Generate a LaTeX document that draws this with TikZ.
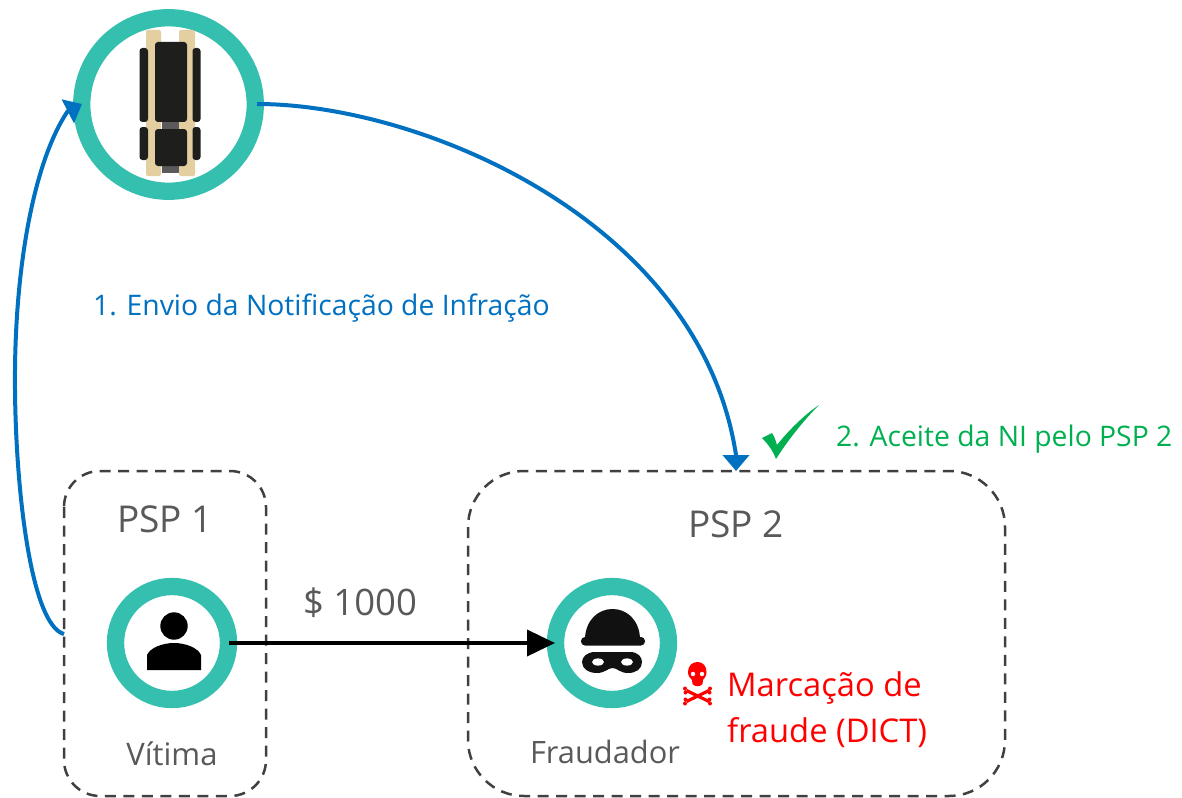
\documentclass[tikz,border=0pt]{standalone}
\usepackage{fontspec}
\setmainfont{Open Sans}
\usetikzlibrary{arrows.meta,calc}
\definecolor{teal1}{HTML}{35BFAE}
\definecolor{blue1}{HTML}{0070C0}
\definecolor{green1}{HTML}{00B050}
\definecolor{grey1}{HTML}{595959}
\definecolor{tan1}{HTML}{E3CFA0}
\definecolor{dark1}{HTML}{1E1E1C}
\definecolor{dark2}{HTML}{111111}
\definecolor{grey2}{HTML}{5A5A5A}
\definecolor{dash1}{HTML}{404040}
\tikzset{
  x=1pt,y=-1pt,
  ring/.style={circle,draw=teal1,fill=white,line width=17.3pt,inner sep=0pt},
  groupbox/.style={draw=dash1,line width=2.5pt,dash pattern=on 11pt off 7.5pt},
  flow/.style={draw=blue1,line width=4pt,-{Triangle[length=16pt,width=26pt]}},
  money/.style={draw=black,line width=3.8pt,-{Triangle[length=28pt,width=26pt]}},
  lbl/.style={inner sep=0pt,anchor=base west},
  ctr/.style={inner sep=0pt,anchor=base,text=grey1},
}
\begin{document}
\begin{tikzpicture}
\useasboundingbox (0,0) rectangle (1182,797);
% groups
\draw[groupbox,rounded corners=36pt] (64,471) rectangle (266,796);
\draw[groupbox,rounded corners=56pt] (468,471) rectangle (1005,796);
% rings
\node[ring,minimum size=173.5pt] (hub) at (168.5,104.5) {};
\node[ring,minimum size=113pt] (vit) at (172,643) {};
\node[ring,minimum size=113pt] (fra) at (612,643) {};
% truck
\fill[tan1,rounded corners=2pt] (146,30) rectangle (161,176);
\fill[tan1,rounded corners=2pt] (179,30) rectangle (195,176);
\fill[dark1,rounded corners=3pt] (139.5,48) rectangle (148,122);
\fill[dark1,rounded corners=3pt] (192.5,48) rectangle (200.5,122);
\fill[dark1,rounded corners=3pt] (139.5,127) rectangle (148,160);
\fill[dark1,rounded corners=3pt] (192.5,127) rectangle (200.5,160);
\fill[grey2] (162,122) rectangle (179,129);
\fill[grey2] (162,166) rectangle (179,173);
\fill[dark1,rounded corners=3pt] (155,42) rectangle (187,122);
\fill[dark1,rounded corners=3pt] (155,129) rectangle (187,166);
% person
\fill[black] (174,626) circle (13.7);
\fill[black] (147,670) -- (147,655) .. controls (150,648) and (162,643) .. (174,643) .. controls (186,643) and (198,648) .. (201,655) -- (201,670) -- cycle;
% fraudster
\fill[dark2] (585,638) .. controls (586,620) and (598,609) .. (612.5,609) .. controls (627,609) and (639,620) .. (640,638) -- cycle;
\fill[dark2,rounded corners=4pt] (581,637) rectangle (645,645.5);
\fill[dark2] (595,652) -- (630,652) .. controls (638,652) and (642,657) .. (642,662) .. controls (642,669) and (636,673) .. (628,673) .. controls (620,673) and (617,668) .. (612.5,668) .. controls (608,668) and (605,673) .. (597,673) .. controls (589,673) and (582,669) .. (582,662) .. controls (582,657) and (587,652) .. (595,652) -- cycle;
\fill[white] (598,662) ellipse (6 and 3.6);
\fill[white] (627,662) ellipse (6 and 3.6);
% skull
\fill[red] (697.5,662) .. controls (703,662) and (706.5,666) .. (706.5,672) .. controls (706.5,676) and (704.5,678) .. (703,680) -- (702.5,684) .. controls (700,687) and (695,687) .. (692.5,684) -- (692,680) .. controls (690,678) and (688,676) .. (688,672) .. controls (688,666) and (692,662) .. (697.5,662) -- cycle;
\fill[white] (693,674) circle (2.2);
\fill[white] (702,674) circle (2.2);
\draw[red,line width=3.2pt] (686.5,690.5) -- (709,701.5);
\draw[red,line width=3.2pt] (709,690.5) -- (686.5,701.5);
\fill[red] (685,688.5) circle (2) (685.5,692.5) circle (2) (710,688.5) circle (2) (709.5,692.5) circle (2)
           (685.5,699.5) circle (2) (685,703.5) circle (2) (709.5,699.5) circle (2) (710,703.5) circle (2);
% check
\fill[green1] (762,438) -- (772,433) .. controls (774,436) and (776,441) .. (777,445) .. controls (788,431) and (804,415) .. (819,405) .. controls (804,420) and (788,440) .. (776,459) .. controls (773,451) and (768,444) .. (762,438) -- cycle;
% connectors
\coordinate (a1) at (64,634);
\coordinate (a3) at (67.5,111.5);
\coordinate (a2) at (82,104);
\coordinate (b1) at (257,104);
\coordinate (b3) at (736,455);
\coordinate (b2) at (736,471);
\coordinate (c1) at (229,643);
\coordinate (c2) at (555,643);
\path[flow] (a1) .. controls (30,625) and (14,480) .. (15,370) .. controls (16,260) and (35,160) .. (a3) -- (a2);
\path[flow] (b1) .. controls (420,104) and (700,220) .. (b3) -- (b2);
\path[money] (c1) -- (c2);
% text
\node[lbl,text=blue1,font=\fontsize{28.3}{32}\selectfont] (t1) at (93,315) {1. Envio da Notificação de Infração};
\node[lbl,text=green1,font=\fontsize{28.3}{32}\selectfont] (t2) at (836,446) {2. Aceite da NI pelo PSP 2};
\node[ctr,font=\fontsize{37}{42}\selectfont] (t3) at (165,532) {PSP 1};
\node[ctr,font=\fontsize{37}{42}\selectfont] (t4) at (736,537) {PSP 2};
\node[ctr,font=\fontsize{36.5}{40}\selectfont] (t5) at (360,615) {\$ 1000};
\node[ctr,font=\fontsize{31}{34}\selectfont] (t6) at (172,765) {Vítima};
\node[ctr,font=\fontsize{30.8}{34}\selectfont] (t7) at (605,763) {Fraudador};
\node[lbl,text=red,font=\fontsize{32.7}{40}\selectfont] (t8) at (727,696) {Marcação de};
\node[lbl,text=red,font=\fontsize{32.7}{40}\selectfont] (t9) at (727,742) {fraude (DICT)};
\end{tikzpicture}
\end{document}
